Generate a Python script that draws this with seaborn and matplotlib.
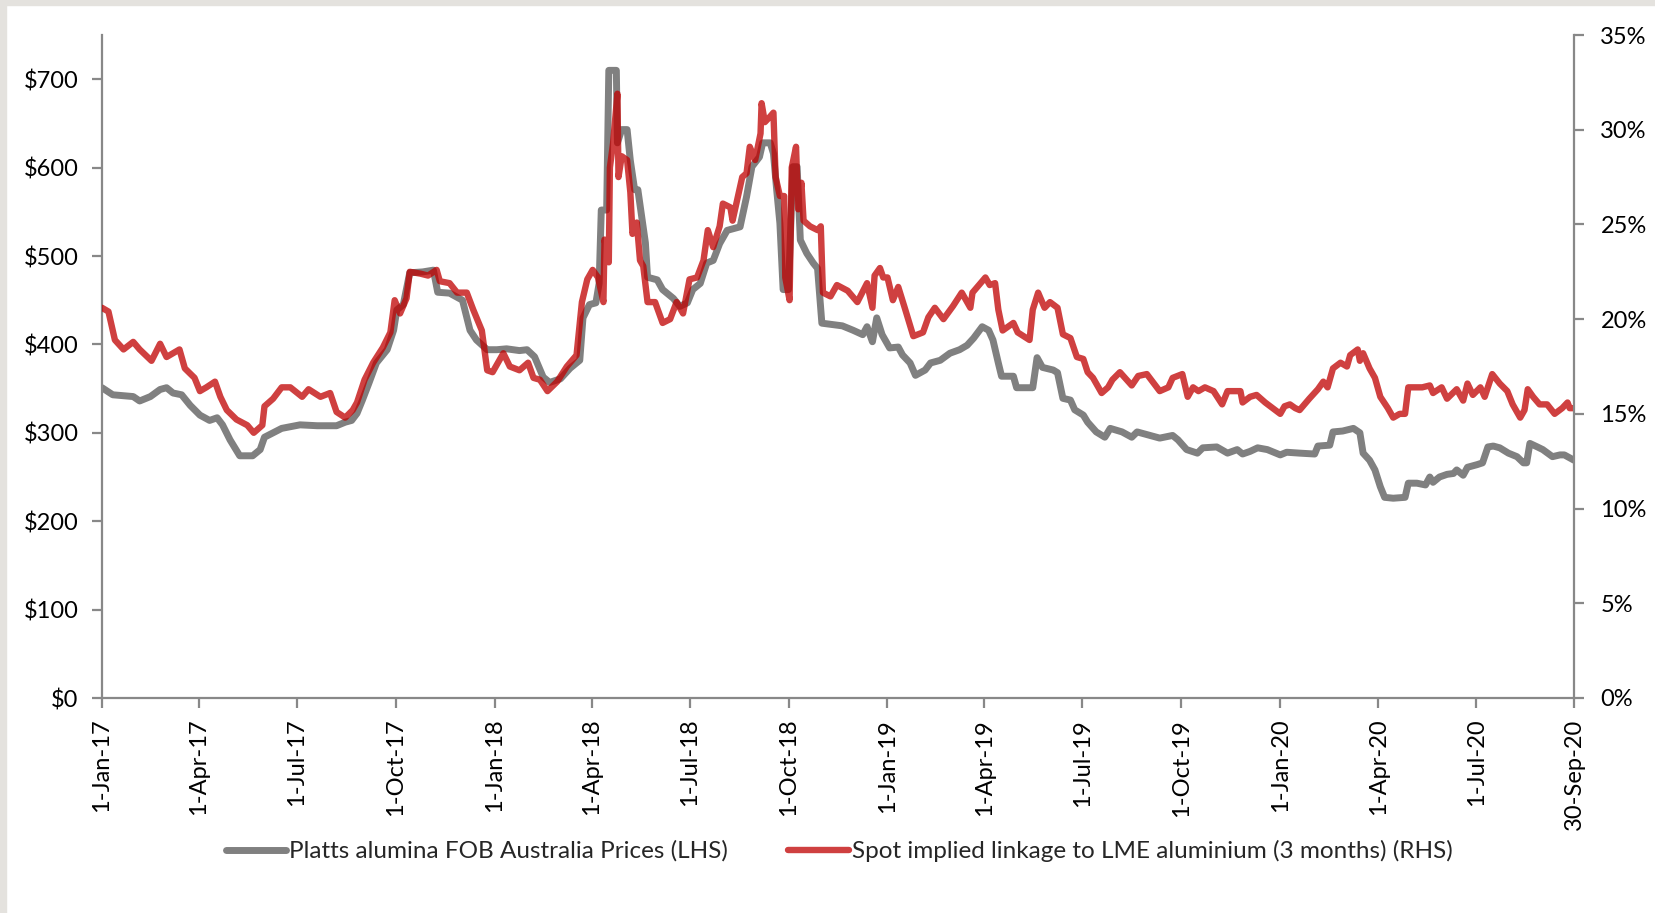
#!/usr/bin/env python3
"""
Platts alumina FOB Australia price vs spot implied linkage to LME aluminium
"""
import numpy as np
import pandas as pd
import matplotlib
matplotlib.use("Agg")
import matplotlib.pyplot as plt
import matplotlib.ticker as mticker
from matplotlib.patches import Rectangle
import seaborn as sns

start = pd.Timestamp("2017-01-01")

# Platts alumina FOB Australia (US$/t), days counted from 1-Jan-17
alumina_days = [0, 10, 29, 35, 45, 54, 60, 66, 74, 82, 91, 100, 107, 112, 119, 128,
                140, 147, 151, 159, 167, 184, 200, 218, 226, 232, 237, 242, 248, 255,
                265, 271, 274, 280, 286, 298, 308, 312, 323, 335, 342, 348, 358, 367,
                376, 388, 395, 402, 410, 416, 426, 435, 444, 447, 453, 459, 462, 464,
                469, 471, 478, 479, 483, 488, 491, 495, 498, 502, 505, 507, 516, 521,
                531, 537, 544, 549, 556, 562, 568, 574, 581, 593, 599, 604, 611, 614,
                621, 624, 627, 630, 633, 638, 642, 646, 649, 655, 661, 665, 669, 688,
                698, 707, 711, 716, 720, 725, 732, 740, 744, 751, 756, 765, 770, 779,
                788, 797, 804, 810, 818, 824, 828, 833, 836, 847, 850, 865, 869, 874,
                884, 888, 893, 900, 904, 912, 916, 924, 932, 937, 948, 957, 962, 974,
                983, 995, 1000, 1008, 1018, 1023, 1036, 1046, 1055, 1060, 1067, 1074,
                1083, 1095, 1101, 1113, 1127, 1130, 1141, 1144, 1153, 1163, 1169, 1172,
                1178, 1183, 1188, 1192, 1200, 1211, 1214, 1222, 1230, 1234, 1237, 1243,
                1250, 1256, 1259, 1265, 1269, 1278, 1283, 1288, 1293, 1299, 1307, 1315,
                1321, 1324, 1327, 1334, 1339, 1348, 1355, 1359, 1368]
alumina_price = [351, 343, 341, 336, 341, 349, 351, 345, 343, 331, 320, 314, 317, 309, 292, 274,
                 274, 281, 295, 300, 305, 309, 308, 308, 312, 314, 322, 337, 356, 379,
                 394, 416, 439, 445, 481, 482, 484, 459, 458, 450, 416, 405, 394, 394,
                 395, 393, 394, 386, 363, 357, 361, 373, 382, 430, 445, 447, 469, 552,
                 552, 710, 710, 628, 643, 643, 608, 575, 575, 541, 515, 476, 473, 462,
                 452, 443, 447, 462, 469, 492, 495, 514, 529, 533, 567, 601, 612, 628,
                 628, 616, 575, 537, 462, 462, 601, 601, 518, 503, 492, 486, 424, 421,
                 416, 411, 420, 403, 430, 411, 396, 397, 388, 379, 365, 371, 379, 382,
                 390, 394, 399, 407, 420, 416, 405, 379, 364, 364, 351, 351, 385, 374,
                 371, 368, 339, 337, 326, 320, 312, 301, 295, 305, 301, 295, 301, 297,
                 294, 297, 292, 281, 277, 283, 284, 277, 281, 276, 279, 283,
                 281, 275, 278, 277, 276, 285, 286, 301, 302, 305, 300, 277,
                 269, 258, 239, 227, 226, 227, 243, 243, 241, 250, 244, 250,
                 253, 254, 258, 252, 261, 264, 266, 284, 285, 283, 277, 273,
                 266, 266, 288, 284, 281, 273, 275, 275, 269]

# Spot implied linkage to LME aluminium 3M (%), days counted from 1-Jan-17
linkage_days = [0, 6, 12, 20, 29, 35, 46, 54, 60, 72, 77, 86, 91, 97, 105, 110, 116,
                125, 135, 141, 149, 151, 159, 167, 175, 186, 192, 203, 212, 218, 226,
                233, 237, 244, 252, 261, 268, 272, 277, 283, 286, 296, 303, 311, 314,
                323, 330, 339, 345, 353, 358, 363, 373, 379, 388, 396, 401, 407, 414,
                423, 432, 441, 446, 451, 456, 461, 466, 467, 471, 472, 475, 479, 480,
                483, 488, 491, 493, 497, 500, 503, 507, 514, 521, 528, 534, 540, 546,
                553, 559, 563, 568, 574, 577, 584, 586, 595, 599, 602, 607, 612, 613,
                616, 621, 624, 626, 630, 634, 635, 639, 641, 645, 647, 650, 652, 658,
                665, 668, 670, 677, 683, 693, 702, 711, 716, 718, 723, 726, 730, 735,
                740, 746, 754, 763, 768, 774, 782, 791, 799, 807, 809, 821, 825, 830,
                833, 837, 847, 851, 862, 865, 870, 876, 881, 888, 893, 900, 906, 912,
                916, 921, 929, 935, 939, 946, 957, 963, 971, 983, 991, 995, 1004, 1009,
                1014, 1019, 1025, 1033, 1041, 1046, 1058, 1060, 1067, 1073, 1081, 1088,
                1095, 1099, 1104, 1109, 1113, 1122, 1130, 1135, 1139, 1144, 1151, 1157,
                1160, 1167, 1169, 1172, 1178, 1183, 1188, 1195, 1200, 1206, 1211, 1214,
                1220, 1227, 1234, 1237, 1245, 1250, 1259, 1265, 1269, 1274, 1281, 1285,
                1292, 1299, 1306, 1311, 1318, 1322, 1325, 1330, 1336, 1343, 1350, 1357,
                1362, 1364, 1368]
linkage_pct = [20.6, 20.4, 18.9, 18.4, 18.8, 18.4, 17.8, 18.7, 18.0, 18.4, 17.4, 16.9, 16.2, 16.4, 16.7, 15.9, 15.2,
               14.7, 14.4, 14.0, 14.4, 15.4, 15.8, 16.4, 16.4, 15.9, 16.3, 15.9, 16.1, 15.1, 14.8,
               15.2, 15.6, 16.8, 17.7, 18.5, 19.3, 21.0, 20.3, 21.1, 22.5, 22.4, 22.3, 22.6, 22.0,
               21.9, 21.4, 21.4, 20.5, 19.4, 17.3, 17.2, 18.2, 17.5, 17.3, 17.7, 16.9, 16.8, 16.2,
               16.7, 17.5, 18.1, 20.9, 22.1, 22.6, 22.2, 20.9, 24.2, 23.0, 28.0, 29.3, 31.9, 27.5,
               28.6, 28.4, 26.7, 24.5, 25.1, 23.1, 22.8, 20.9, 20.9, 19.8, 20.0, 20.9, 20.3, 22.1,
               22.2, 23.1, 24.7, 23.8, 24.9, 26.1, 25.9, 25.2, 27.5, 27.7, 29.1, 28.4, 29.8, 31.4,
               30.4, 30.7, 30.9, 27.5, 26.5, 26.5, 22.2, 21.0, 28.0, 29.1, 25.8, 27.2, 25.2, 24.9,
               24.7, 24.9, 21.4, 21.2, 21.8, 21.5, 20.9, 21.9, 20.6, 22.3, 22.7, 22.2, 22.2, 21.0,
               21.7, 20.6, 19.1, 19.3, 20.1, 20.6, 20.0, 20.7, 21.4, 20.6, 21.4, 22.2, 21.8, 21.9,
               20.5, 19.4, 19.8, 19.3, 18.9, 20.5, 21.4, 20.6, 20.9, 20.6, 19.2, 19.0, 18.0, 17.9,
               17.2, 16.9, 16.1, 16.4, 16.8, 17.2, 16.5, 17.0, 17.1, 16.2, 16.4, 16.9, 17.1, 15.9,
               16.4, 16.2, 16.4, 16.2, 15.5, 16.2, 16.2, 15.6, 15.9, 16.0, 15.6, 15.3,
               15.0, 15.4, 15.5, 15.3, 15.2, 15.8, 16.3, 16.7, 16.4, 17.4, 17.7, 17.5,
               18.1, 18.4, 17.8, 18.2, 17.4, 16.9, 15.9, 15.3, 14.8, 15.0, 15.0, 16.4,
               16.4, 16.4, 16.5, 16.1, 16.4, 15.8, 16.3, 15.7, 16.6, 16.0, 16.4, 15.9,
               17.1, 16.6, 16.2, 15.5, 14.8, 15.2, 16.3, 15.9, 15.5, 15.5, 15.0, 15.3,
               15.6, 15.3, 15.3]

tick_dates = ["2017-01-01", "2017-04-01", "2017-07-01", "2017-10-01", "2018-01-01",
              "2018-04-01", "2018-07-01", "2018-10-01", "2019-01-01", "2019-04-01",
              "2019-07-01", "2019-10-01", "2020-01-01", "2020-04-01", "2020-07-01",
              "2020-09-30"]

labels = ["Platts alumina FOB Australia Prices (LHS)",
          "Spot implied linkage to LME aluminium (3 months) (RHS)"]

GREY = "#808080"
RED = "#C00000"
AXIS = "#888888"

alumina = pd.DataFrame({"date": start + pd.to_timedelta(alumina_days, unit="D"),
                        "price": alumina_price})
linkage = pd.DataFrame({"date": start + pd.to_timedelta(linkage_days, unit="D"),
                        "pct": np.array(linkage_pct) / 100})

sns.set_style("ticks")
plt.rcParams["font.family"] = ["Lato", "DejaVu Sans"]

fig = plt.figure(figsize=(16.55, 9.13), dpi=100)
fig.patch.set_facecolor("white")
ax = fig.add_axes([102 / 1655, 1 - 698 / 913, (1574 - 102) / 1655, (698 - 35) / 913])
ax2 = ax.twinx()

sns.lineplot(data=alumina, x="date", y="price", ax=ax, color=GREY, linewidth=5.0,
             solid_capstyle="round", legend=False)
sns.lineplot(data=linkage, x="date", y="pct", ax=ax2, color=RED, alpha=0.75,
             linewidth=4.6, solid_capstyle="round", legend=False)

ax.set_xlim(pd.Timestamp("2017-01-01"), pd.Timestamp("2020-09-30"))
ax.set_ylim(0, 750)
ax2.set_ylim(0, 0.35)
ax.set_xlabel("")
ax.set_ylabel("")
ax2.set_ylabel("")

ax.set_yticks(np.arange(0, 701, 100))
ax.yaxis.set_major_formatter(mticker.FuncFormatter(lambda v, p: f"${v:,.0f}"))
ax2.set_yticks(np.arange(0, 0.351, 0.05))
ax2.yaxis.set_major_formatter(mticker.FuncFormatter(lambda v, p: f"{v * 100:.0f}%"))

xt = pd.to_datetime(tick_dates)
ax.set_xticks(xt)
ax.set_xticklabels([f"{d.day}-{d.strftime('%b')}-{d.strftime('%y')}" for d in xt],
                   rotation=90)

for a in (ax, ax2):
    a.spines["top"].set_visible(False)
    for s in a.spines.values():
        s.set_color(AXIS)
        s.set_linewidth(1.6)
    a.tick_params(colors=AXIS, labelcolor="black", labelsize=17, width=1.6, length=7)
ax.spines["right"].set_visible(False)
ax2.spines["left"].set_visible(False)
ax2.spines["bottom"].set_visible(False)
ax.tick_params(axis="y", pad=10)
ax2.tick_params(axis="y", pad=12)
ax.tick_params(axis="x", pad=8)

# legend under the chart
handles = [ax.get_lines()[0], ax2.get_lines()[0]]
fig.legend(handles, labels, loc="center", bbox_to_anchor=(839 / 1655, 1 - 851 / 913),
           ncol=2, frameon=False, fontsize=17.5, handlelength=2.5, handletextpad=0.1,
           columnspacing=2.5)

# screenshot border
fig.patches.append(Rectangle((0, 1 - 5 / 913), 1, 5 / 913, transform=fig.transFigure,
                             color="#E4E2DE", zorder=0))
fig.patches.append(Rectangle((0, 0), 6 / 1655, 1, transform=fig.transFigure,
                             color="#E4E2DE", zorder=0))

plt.savefig("out.png", dpi=100, facecolor=fig.get_facecolor())
